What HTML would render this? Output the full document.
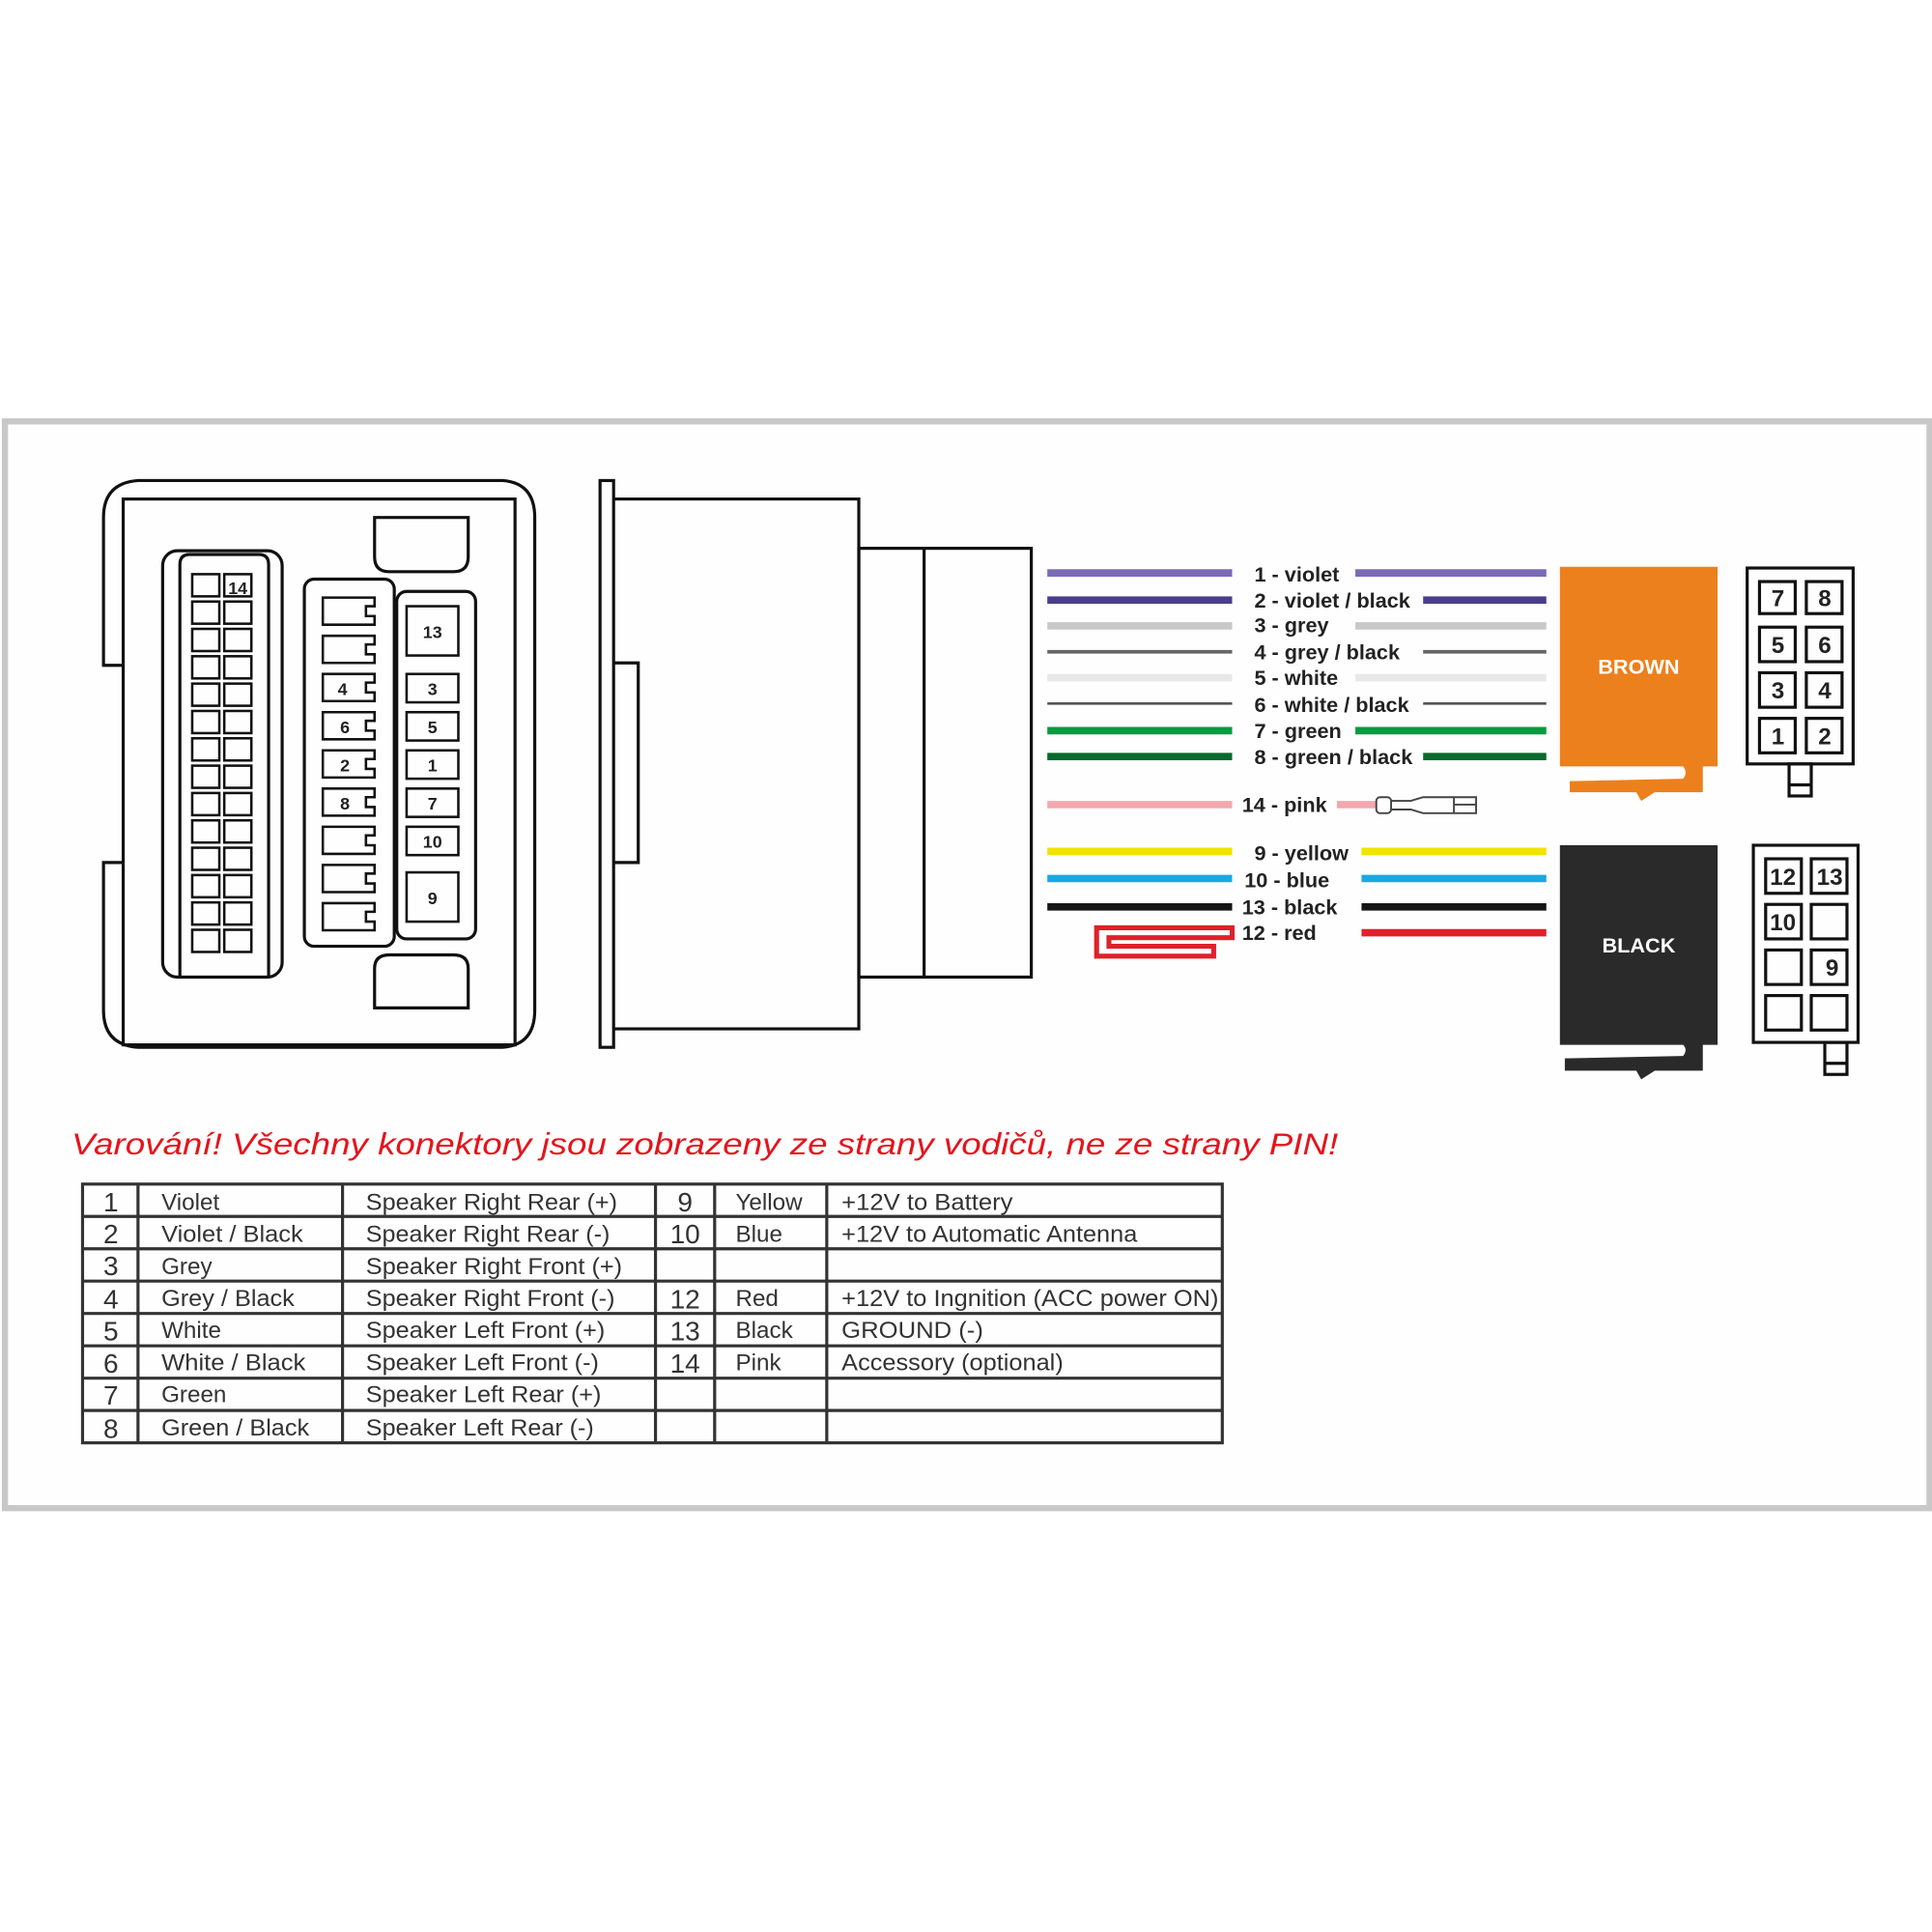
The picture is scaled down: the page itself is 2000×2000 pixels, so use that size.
<!DOCTYPE html>
<html><head><meta charset="utf-8"><style>html,body{margin:0;padding:0;background:#fff}svg{display:block}</style></head>
<body>
<svg xmlns="http://www.w3.org/2000/svg" width="2000" height="2000" viewBox="0 0 1568 1568" font-family="Liberation Sans, Arial, sans-serif">
<rect x="0" y="0" width="1568" height="1568" fill="#fff"/>
<rect x="4" y="342" width="1562" height="882" fill="#fefefe" stroke="#c8c8c8" stroke-width="5"/>

<g fill="none" stroke="#111" stroke-width="2.5">
<path d="M100,540 H84 V420 Q84,392 112,390 H408 Q434,392 434,420 V820 Q434,848 408,850 H112 Q84,848 84,820 V700 H100"/>
<rect x="100" y="405" width="318" height="443"/>
<path d="M304,420 H380 V452 Q380,464 368,464 H316 Q304,464 304,452 Z"/>
<path d="M304,818 H380 V786 Q380,775 368,775 H316 Q304,775 304,786 Z"/>
<rect x="132" y="447" width="97" height="346" rx="12"/>
<path d="M146,793 V458 Q146,450 154,450 H210 Q218,450 218,458 V793"/>
<rect x="247" y="470" width="73" height="298" rx="8"/>
<rect x="322" y="480" width="64" height="282" rx="8"/>
</g>
<g fill="none" stroke="#111" stroke-width="2">
<g id="pr">
<rect x="156" y="466" width="22" height="18"/><rect x="182" y="466" width="22" height="18"/>
</g>
<use href="#pr" y="22.2"/><use href="#pr" y="44.4"/><use href="#pr" y="66.6"/><use href="#pr" y="88.8"/><use href="#pr" y="111"/><use href="#pr" y="133.2"/><use href="#pr" y="155.4"/><use href="#pr" y="177.6"/><use href="#pr" y="199.8"/><use href="#pr" y="222"/><use href="#pr" y="244.2"/><use href="#pr" y="266.4"/><use href="#pr" y="288.6"/>
<g id="mp"><path d="M262,485 H304 V492 H297 V500 H304 V507 H262 Z"/></g>
<use href="#mp" y="31"/><use href="#mp" y="62"/><use href="#mp" y="93"/><use href="#mp" y="124"/><use href="#mp" y="155"/><use href="#mp" y="186"/><use href="#mp" y="217"/><use href="#mp" y="248"/>
<rect x="330" y="492" width="42" height="40"/>
<rect x="330" y="547" width="42" height="23"/>
<rect x="330" y="578" width="42" height="23"/>
<rect x="330" y="609" width="42" height="23"/>
<rect x="330" y="640" width="42" height="23"/>
<rect x="330" y="671" width="42" height="23"/>
<rect x="330" y="708" width="42" height="40"/>
</g>
<g font-size="14" fill="#222" text-anchor="middle" font-weight="bold">
<text x="193" y="482">14</text>
<text x="351" y="518">13</text><text x="351" y="564">3</text><text x="351" y="595">5</text><text x="351" y="626">1</text><text x="351" y="657">7</text><text x="351" y="688">10</text><text x="351" y="734">9</text>
<text x="278" y="564">4</text><text x="280" y="595">6</text><text x="280" y="626">2</text><text x="280" y="657">8</text>
</g>

<g fill="none" stroke="#111" stroke-width="2.5">
<rect x="487" y="390" width="11" height="460"/>
<path d="M498,405 H697 V835 H498 M498,538 H518 V700 H498"/>
<rect x="697" y="445" width="140" height="348"/>
<path d="M750,445 V793"/>
</g>

<g stroke-width="6">
<path d="M850,465 H1000 M1100,465 H1255" stroke="#7a6ab8"/>
<path d="M850,487 H1000 M1155,487 H1255" stroke="#4a3e8c"/>
<path d="M850,508 H1000 M1100,508 H1255" stroke="#c8c8c8"/>
<path d="M850,529 H1000 M1155,529 H1255" stroke="#666" stroke-width="3"/>
<path d="M850,550 H1000 M1100,550 H1255" stroke="#e8e8e8"/>
<path d="M850,571 H1000 M1155,571 H1255" stroke="#555" stroke-width="2"/>
<path d="M850,593 H1000 M1100,593 H1255" stroke="#0a9a40"/>
<path d="M850,614 H1000 M1155,614 H1255" stroke="#066a2c"/>
<path d="M850,653 H1000 M1085,653 H1117" stroke="#f2a8ae"/>
<path d="M850,691 H1000 M1105,691 H1255" stroke="#f2e200"/>
<path d="M850,713 H1000 M1105,713 H1255" stroke="#1aa8e0"/>
<path d="M850,736 H1000 M1105,736 H1255" stroke="#151515"/>
<path d="M1105,757 H1255" stroke="#e0202a"/>
</g>
<g fill="none" stroke="#444" stroke-width="1.5">
<rect x="1117" y="647" width="12" height="13" rx="3"/>
<path d="M1129,650 H1145 L1155,647 H1198 V660 H1155 L1145,657 H1129"/>
<path d="M1180,647 V660 M1180,653 H1198"/>
</g>
<path d="M890,753 H1000 V761 H900 V768 H985 V776 H890 Z" fill="none" stroke="#e0202a" stroke-width="4"/>
<g font-size="17" font-weight="bold" fill="#222">
<text x="1018" y="472">1 - violet</text>
<text x="1018" y="493">2 - violet / black</text>
<text x="1018" y="513">3 - grey</text>
<text x="1018" y="535">4 - grey / black</text>
<text x="1018" y="556">5 - white</text>
<text x="1018" y="578">6 - white / black</text>
<text x="1018" y="599">7 - green</text>
<text x="1018" y="620">8 - green / black</text>
<text x="1008" y="659">14 - pink</text>
<text x="1018" y="698">9 - yellow</text>
<text x="1010" y="720">10 - blue</text>
<text x="1008" y="742">13 - black</text>
<text x="1008" y="763">12 - red</text>
</g>

<path d="M1266,460 H1394 V622 H1382 V643 H1343 L1332,650 L1328,643 H1274 V634 L1366,632 Q1370,627 1366,622 H1266 Z" fill="#ec801c"/>
<text x="1330" y="547" text-anchor="middle" font-size="17" font-weight="bold" fill="#fff">BROWN</text>
<path d="M1266,686 H1394 V848 H1382 V869 H1343 L1332,876 L1328,869 H1270 V859 L1366,857 Q1370,852 1366,848 H1266 Z" fill="#2a2a2a"/>
<text x="1330" y="773" text-anchor="middle" font-size="17" font-weight="bold" fill="#fff">BLACK</text>

<g fill="none" stroke="#111" stroke-width="2.5">
<rect x="1418" y="461" width="86" height="159"/>
<rect x="1452" y="620" width="18" height="26"/><path d="M1452,637 H1470"/>
<rect x="1428" y="472" width="29" height="26"/><rect x="1466" y="472" width="29" height="26"/>
<rect x="1428" y="509" width="29" height="28"/><rect x="1466" y="509" width="29" height="28"/>
<rect x="1428" y="546" width="29" height="28"/><rect x="1466" y="546" width="29" height="28"/>
<rect x="1428" y="583" width="29" height="28"/><rect x="1466" y="583" width="29" height="28"/>
<rect x="1423" y="686" width="85" height="160"/>
<rect x="1481" y="846" width="18" height="26"/><path d="M1481,863 H1499"/>
<rect x="1433" y="697" width="29" height="28"/><rect x="1470" y="697" width="29" height="28"/>
<rect x="1433" y="734" width="29" height="28"/><rect x="1470" y="734" width="29" height="28"/>
<rect x="1433" y="771" width="29" height="28"/><rect x="1470" y="771" width="29" height="28"/>
<rect x="1433" y="808" width="29" height="28"/><rect x="1470" y="808" width="29" height="28"/>
</g>
<g font-size="19" font-weight="bold" fill="#222" text-anchor="middle">
<text x="1443" y="492">7</text><text x="1481" y="492">8</text>
<text x="1443" y="530">5</text><text x="1481" y="530">6</text>
<text x="1443" y="567">3</text><text x="1481" y="567">4</text>
<text x="1443" y="604">1</text><text x="1481" y="604">2</text>
<text x="1447" y="718">12</text><text x="1485" y="718">13</text>
<text x="1447" y="755">10</text><text x="1487" y="792">9</text>
</g>

<text x="58" y="937" font-size="25" font-style="italic" fill="#e4141c" textLength="1028" lengthAdjust="spacingAndGlyphs">Varování! Všechny konektory jsou zobrazeny ze strany vodičů, ne ze strany PIN!</text>

<g stroke="#333" stroke-width="2.5" fill="none">
<rect x="67" y="961" width="925" height="210"/>
<path d="M67,987.25 H992 M67,1013.5 H992 M67,1039.75 H992 M67,1066 H992 M67,1092.25 H992 M67,1118.5 H992 M67,1144.75 H992"/>
<path d="M112,961 V1171 M278,961 V1171 M532,961 V1171 M580,961 V1171 M671,961 V1171"/>
</g>
<g font-size="22" fill="#333" text-anchor="middle">
<text x="90" y="983">1</text><text x="90" y="1009">2</text><text x="90" y="1035">3</text><text x="90" y="1062">4</text><text x="90" y="1088">5</text><text x="90" y="1114">6</text><text x="90" y="1140">7</text><text x="90" y="1167">8</text>
<text x="556" y="983">9</text><text x="556" y="1009">10</text><text x="556" y="1062">12</text><text x="556" y="1088">13</text><text x="556" y="1114">14</text>
</g>
<g font-size="19" fill="#333">
<text x="131" y="982">Violet</text>
<text x="131" y="1008" textLength="115" lengthAdjust="spacingAndGlyphs">Violet / Black</text>
<text x="131" y="1034">Grey</text>
<text x="131" y="1060" textLength="108" lengthAdjust="spacingAndGlyphs">Grey / Black</text>
<text x="131" y="1086">White</text>
<text x="131" y="1112" textLength="117" lengthAdjust="spacingAndGlyphs">White / Black</text>
<text x="131" y="1138">Green</text>
<text x="131" y="1165" textLength="120" lengthAdjust="spacingAndGlyphs">Green / Black</text>
<text x="297" y="982" textLength="204" lengthAdjust="spacingAndGlyphs">Speaker Right Rear (+)</text>
<text x="297" y="1008" textLength="198" lengthAdjust="spacingAndGlyphs">Speaker Right Rear (-)</text>
<text x="297" y="1034" textLength="208" lengthAdjust="spacingAndGlyphs">Speaker Right Front (+)</text>
<text x="297" y="1060" textLength="202" lengthAdjust="spacingAndGlyphs">Speaker Right Front (-)</text>
<text x="297" y="1086" textLength="194" lengthAdjust="spacingAndGlyphs">Speaker Left Front (+)</text>
<text x="297" y="1112" textLength="189" lengthAdjust="spacingAndGlyphs">Speaker Left Front (-)</text>
<text x="297" y="1138" textLength="191" lengthAdjust="spacingAndGlyphs">Speaker Left Rear (+)</text>
<text x="297" y="1165" textLength="185" lengthAdjust="spacingAndGlyphs">Speaker Left Rear (-)</text>
<text x="597" y="982">Yellow</text>
<text x="597" y="1008">Blue</text>
<text x="597" y="1060">Red</text>
<text x="597" y="1086">Black</text>
<text x="597" y="1112">Pink</text>
<text x="683" y="982" textLength="139" lengthAdjust="spacingAndGlyphs">+12V to Battery</text>
<text x="683" y="1008" textLength="240" lengthAdjust="spacingAndGlyphs">+12V to Automatic Antenna</text>
<text x="683" y="1060" textLength="306" lengthAdjust="spacingAndGlyphs">+12V to Ingnition (ACC power ON)</text>
<text x="683" y="1086" textLength="115" lengthAdjust="spacingAndGlyphs">GROUND (-)</text>
<text x="683" y="1112" textLength="180" lengthAdjust="spacingAndGlyphs">Accessory (optional)</text>
</g>
</svg>
</body></html>
